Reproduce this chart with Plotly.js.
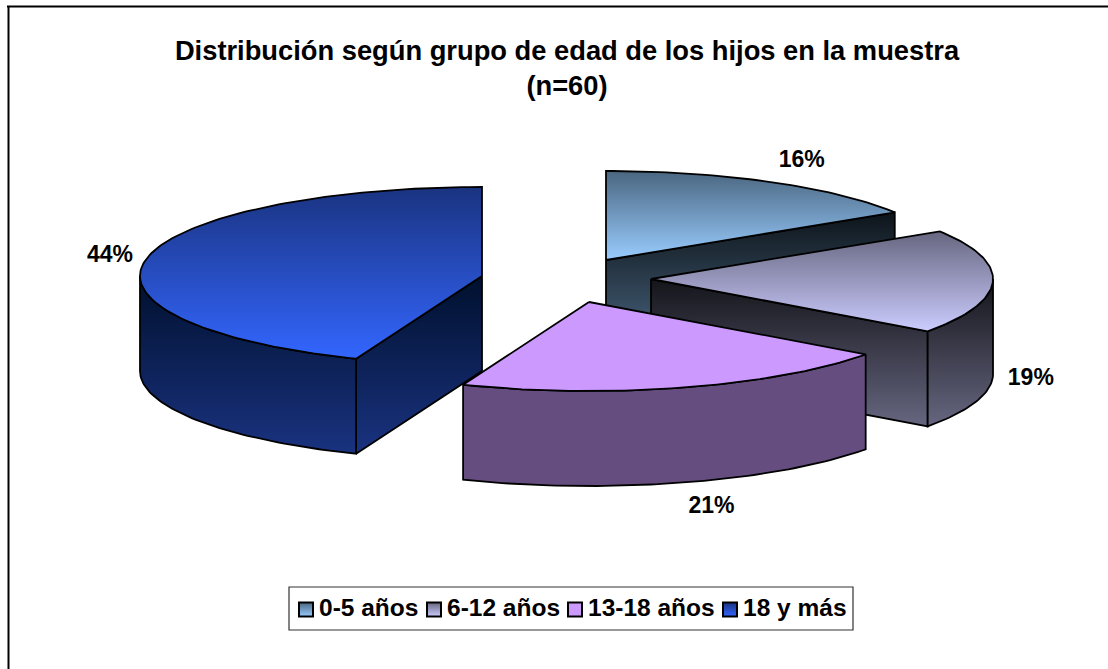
<!DOCTYPE html>
<html><head><meta charset="utf-8">
<script src="https://cdn.plot.ly/plotly-3.0.1.min.js"></script>
<style>html,body{margin:0;padding:0;background:#fff}#c{width:1108px;height:669px}</style>
</head><body><div id="c"></div>
<script>
const categories = ['0-5 años', '6-12 años', '13-18 años', '18 y más'];
const percentages = [16, 19, 21, 44];
const titleText = 'Distribución según grupo de edad de los hijos en la muestra<br>(n=60)';

// pie projection (pixel-scaled axes)
const RX = 342, RY = 89, DEPTH = 95;
const apex = [[606,260],[651,279],[589,302],[482,276]];
// gradients listed [top of face, bottom of face]
const topColors = [['#4a6680','#99ccff'],['#666680','#ccccff'],['#cc99ff','#cc99ff'],['#1a3380','#3366ff']];
const wallColors = [['#0d141a','#4d6a85'],['#14141a','#666680'],['#664d80','#664d80'],['#00102e','#1a3380']];
const labelOffset = [[31,-21],[38,97],[27,120],[-36,-3]];
const legendSwatchX = [306,434,575,730];
const font = 'Liberation Sans, Arial, sans-serif';

const total = percentages.reduce((a,b)=>a+b,0);
let acc = 0;
const spans = percentages.map(v=>{const s=acc/total*2*Math.PI; acc+=v; return [s,acc/total*2*Math.PI];});
const rim = (i,t)=>[apex[i][0]+RX*Math.sin(t), apex[i][1]-RY*Math.cos(t)];
function arc(i,a,b,dy){const n=Math.max(2,Math.ceil(Math.abs(b-a)/0.02));const p=[];
  for(let k=0;k<=n;k++){const q=rim(i,a+(b-a)*k/n);p.push([q[0],q[1]+dy]);}return p;}
function poly(pts,cols){
  const closed=pts.concat([pts[0]]);
  return {type:'scatter',mode:'lines',x:closed.map(p=>p[0]),y:closed.map(p=>p[1]),fill:'toself',
    line:{color:'#000',width:1.8},showlegend:false,hoverinfo:'skip',
    fillcolor:cols[0],
    // the y axis is reversed, so the gradient runs from the bottom colour upward
    fillgradient:cols[0]===cols[1]?undefined:{type:'vertical',colorscale:[[0,cols[1]],[1,cols[0]]]}};
}
function sliceTraces(i){
  const [s,e]=spans[i]; const A=apex[i]; const out=[];
  const side=t=>{const r=rim(i,t);return [[A[0],A[1]],[r[0],r[1]],[r[0],r[1]+DEPTH],[A[0],A[1]+DEPTH]];};
  // inner radial wall that faces the viewer
  if(i===0||i===1) out.push(poly(side(e),wallColors[i]));
  if(i===3) out.push(poly(side(s),wallColors[i]));
  // outer wall: only the part facing the viewer
  const a=Math.max(s,Math.PI/2), b=Math.min(e,3*Math.PI/2);
  if(b>a){out.push(poly(arc(i,a,b,0).concat(arc(i,b,a,DEPTH)),wallColors[i]));}
  // top
  out.push(poly([A].concat(arc(i,s,e,0)),topColors[i]));
  return out;
}
const traces=[];
[0,1,3,2].forEach(i=>sliceTraces(i).forEach(t=>traces.push(t)));

// percentage labels
const labelPts=spans.map((sp,i)=>{const r=rim(i,(sp[0]+sp[1])/2);return [r[0]+labelOffset[i][0],r[1]+labelOffset[i][1]];});
traces.push({type:'scatter',mode:'text',x:labelPts.map(p=>p[0]),y:labelPts.map(p=>p[1]),
  text:percentages.map(v=>v+'%'),textposition:'middle center',
  textfont:{family:font,size:23,color:'#000',weight:700},showlegend:false,hoverinfo:'skip',cliponaxis:false});

// legend row
const swatchY=609.5, legendTextY=609.5;
traces.push({type:'scatter',mode:'markers',x:legendSwatchX,y:categories.map(()=>swatchY),
  marker:{symbol:'square',size:14,color:topColors.map(c=>c[0]),
    gradient:{type:'vertical',color:topColors.map(c=>c[1])},line:{color:'#000',width:2}},
  showlegend:false,hoverinfo:'skip'});
traces.push({type:'scatter',mode:'text',x:legendSwatchX.map(x=>x+13),y:categories.map(()=>legendTextY),
  text:categories,textposition:'middle right',
  textfont:{family:font,size:24.5,color:'#000',weight:700},showlegend:false,hoverinfo:'skip'});

const layout={width:1108,height:669,margin:{l:0,r:0,t:0,b:0},paper_bgcolor:'#fff',plot_bgcolor:'#fff',showlegend:false,
  title:{text:titleText,x:567/1108,xanchor:'center',y:1-60/669,yref:'container',yanchor:'top',
    font:{family:font,size:27.3,color:'#000',weight:700}},
  xaxis:{range:[0,1108],visible:false,fixedrange:true},
  yaxis:{range:[669,0],visible:false,fixedrange:true},
  shapes:[
    {type:'line',x0:7,x1:1108,y0:6.5,y1:6.5,line:{color:'#000',width:2},layer:'below'},
    {type:'line',x0:8.5,x1:8.5,y0:6,y1:669,line:{color:'#000',width:2},layer:'below'},
    {type:'rect',x0:289,x1:853,y0:587,y1:630,line:{color:'#333',width:1.2},fillcolor:'#fff',layer:'below'}
  ]};
Plotly.newPlot('c',traces,layout,{displayModeBar:false,responsive:false});
</script></body></html>
